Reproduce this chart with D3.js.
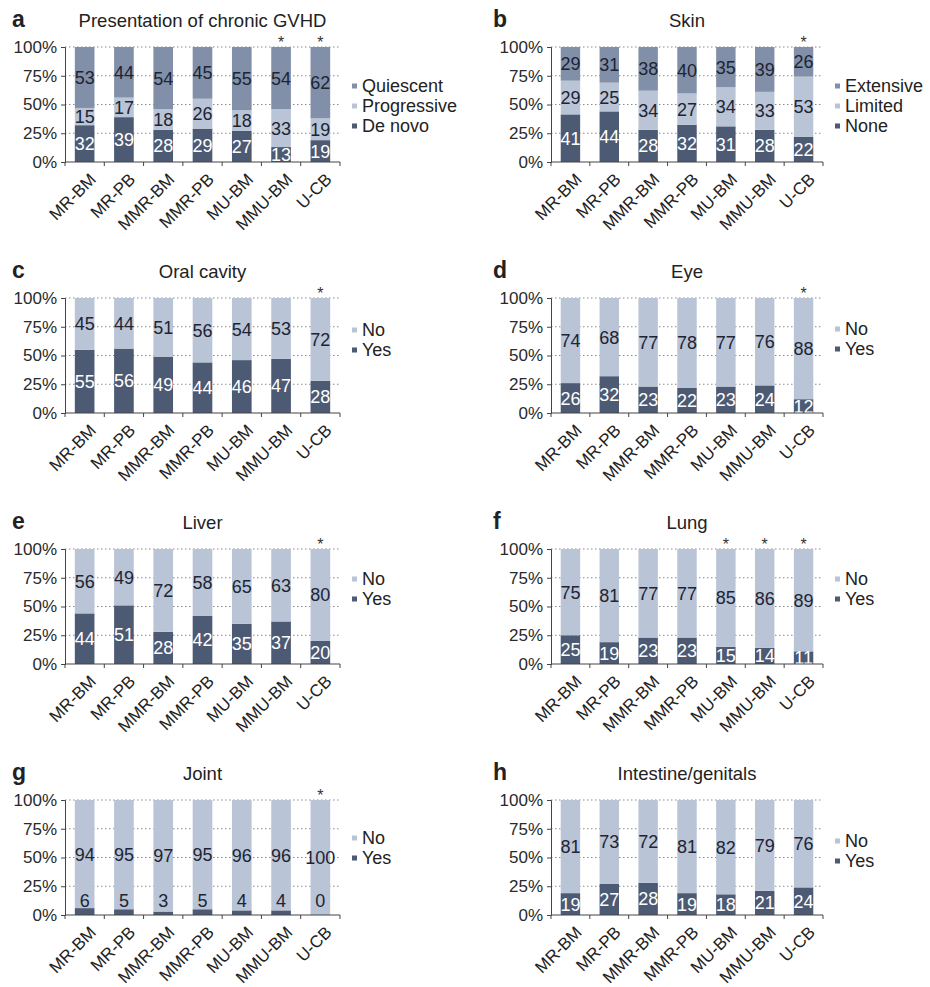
<!DOCTYPE html>
<html>
<head>
<meta charset="utf-8">
<script src="https://cdn.jsdelivr.net/npm/d3@7"></script>
<style>
  html, body { margin: 0; padding: 0; background: #fff; }
  svg { display: block; font-family: "Liberation Sans", Arial, Helvetica, sans-serif; }
</style>
</head>
<body>
<svg id="chart" width="930" height="987"></svg>
<script>
// Donor/graft source groups shown on every panel
const categories = ["MR-BM", "MR-PB", "MMR-BM", "MMR-PB", "MU-BM", "MMU-BM", "U-CB"];
const yTicks = [0, 25, 50, 75, 100];

// a — presentation of chronic GVHD (%)
const presDeNovo      = [32, 39, 28, 29, 27, 13, 19];
const presProgressive = [15, 17, 18, 26, 18, 33, 19];
const presQuiescent   = [53, 44, 54, 45, 55, 54, 62];
const presStars       = ["MMU-BM", "U-CB"];

// b — skin involvement (%)
const skinNone      = [41, 44, 28, 32, 31, 28, 22];
const skinLimited   = [29, 25, 34, 27, 34, 33, 53];
const skinExtensive = [29, 31, 38, 40, 35, 39, 26];
const skinStars     = ["U-CB"];

// c — oral cavity (%)
const oralYes = [55, 56, 49, 44, 46, 47, 28];
const oralNo  = [45, 44, 51, 56, 54, 53, 72];
const oralStars = ["U-CB"];

// d — eye (%)
const eyeYes = [26, 32, 23, 22, 23, 24, 12];
const eyeNo  = [74, 68, 77, 78, 77, 76, 88];
const eyeStars = ["U-CB"];

// e — liver (%)
const liverYes = [44, 51, 28, 42, 35, 37, 20];
const liverNo  = [56, 49, 72, 58, 65, 63, 80];
const liverStars = ["U-CB"];

// f — lung (%)
const lungYes = [25, 19, 23, 23, 15, 14, 11];
const lungNo  = [75, 81, 77, 77, 85, 86, 89];
const lungStars = ["MU-BM", "MMU-BM", "U-CB"];

// g — joint (%)
const jointYes = [6, 5, 3, 5, 4, 4, 0];
const jointNo  = [94, 95, 97, 95, 96, 96, 100];
const jointStars = ["U-CB"];

// h — intestine/genitals (%)
const gutYes = [19, 27, 28, 19, 18, 21, 24];
const gutNo  = [81, 73, 72, 81, 82, 79, 76];
const gutStars = [];

const DARK = "#4c5a74", MID = "#8190a8", LIGHT = "#b9c4d6";
const INK = "#1d2434";

// Series are listed bottom-to-top; legend lists them top-to-bottom
const panels = [
  { letter: "a", title: "Presentation of chronic GVHD", stars: presStars, legendDy: 39,
    series: [ { name: "De novo", values: presDeNovo, color: DARK },
              { name: "Progressive", values: presProgressive, color: LIGHT },
              { name: "Quiescent", values: presQuiescent, color: MID } ] },
  { letter: "b", title: "Skin", stars: skinStars, legendDy: 39,
    series: [ { name: "None", values: skinNone, color: DARK },
              { name: "Limited", values: skinLimited, color: LIGHT },
              { name: "Extensive", values: skinExtensive, color: MID } ] },
  { letter: "c", title: "Oral cavity", stars: oralStars, legendDy: 32,
    series: [ { name: "Yes", values: oralYes, color: DARK }, { name: "No", values: oralNo, color: LIGHT } ] },
  { letter: "d", title: "Eye", stars: eyeStars, legendDy: 31,
    series: [ { name: "Yes", values: eyeYes, color: DARK }, { name: "No", values: eyeNo, color: LIGHT } ] },
  { letter: "e", title: "Liver", stars: liverStars, legendDy: 30,
    series: [ { name: "Yes", values: liverYes, color: DARK }, { name: "No", values: liverNo, color: LIGHT } ] },
  { letter: "f", title: "Lung", stars: lungStars, legendDy: 30,
    series: [ { name: "Yes", values: lungYes, color: DARK }, { name: "No", values: lungNo, color: LIGHT } ] },
  { letter: "g", title: "Joint", stars: jointStars, legendDy: 38,
    series: [ { name: "Yes", values: jointYes, color: DARK }, { name: "No", values: jointNo, color: LIGHT } ] },
  { letter: "h", title: "Intestine/genitals", stars: gutStars, legendDy: 41,
    series: [ { name: "Yes", values: gutYes, color: DARK }, { name: "No", values: gutNo, color: LIGHT } ] }
];

const svg = d3.select("#chart");
const colX = [[65, 340], [551, 823]];
const rowTop = 47, rowStep = 251, plotH = 115;

panels.forEach((p, i) => {
  const col = i % 2, row = Math.floor(i / 2);
  const [x0, x1] = colX[col];
  const top = rowTop + row * rowStep, bottom = top + plotH;

  const x = d3.scaleBand().domain(categories).range([x0, x1]).paddingInner(0.5).paddingOuter(0.25);
  const y = d3.scaleLinear().domain([0, 100]).range([bottom, top]);

  const g = svg.append("g");

  // dotted gridlines
  g.selectAll(".grid").data(yTicks.filter(t => t > 0)).join("line")
    .attr("x1", x0).attr("x2", x1)
    .attr("y1", d => y(d)).attr("y2", d => y(d))
    .attr("stroke", "#8a8a8a").attr("stroke-width", 1).attr("stroke-dasharray", "1.5,2.5");

  // stacked, normalised to 100%
  const rows = categories.map((c, k) => {
    const o = { cat: c };
    p.series.forEach((s, j) => o["s" + j] = s.values[k]);
    return o;
  });
  const keys = p.series.map((s, j) => "s" + j);
  const stacked = d3.stack().keys(keys).offset(d3.stackOffsetExpand)(rows);

  stacked.forEach((layer, j) => {
    const s = p.series[j];
    g.selectAll(null).data(layer).join("rect")
      .attr("x", d => x(d.data.cat))
      .attr("width", x.bandwidth())
      .attr("y", d => y(d[1] * 100))
      .attr("height", d => y(d[0] * 100) - y(d[1] * 100))
      .attr("fill", s.color);
  });

  // value labels
  stacked.forEach((layer, j) => {
    const s = p.series[j];
    g.selectAll(null).data(layer).join("text")
      .attr("x", d => x(d.data.cat) + x.bandwidth() / 2)
      .attr("y", d => {
        const v = d.data["s" + j];
        const mid = (d[0] + d[1]) / 2 * 100;
        return y(v < 8 ? Math.max(mid, 13) : mid);
      })
      .attr("dy", "0.36em")
      .attr("text-anchor", "middle")
      .attr("font-size", 18)
      .attr("fill", d => (s.color === DARK && d.data["s" + j] >= 8) ? "#ffffff" : INK)
      .text(d => d.data["s" + j]);
  });

  // significance markers
  g.selectAll(".star").data(p.stars).join("text")
    .attr("x", d => x(d) + x.bandwidth() / 2)
    .attr("y", top + 1)
    .attr("text-anchor", "middle")
    .attr("font-size", 16)
    .attr("fill", "#333")
    .text("*");

  // y axis
  const yAxis = d3.axisLeft(y).tickValues(yTicks).tickFormat(d => d + "%").tickSize(4).tickPadding(4);
  const ya = g.append("g").attr("transform", `translate(${x0},0)`).call(yAxis);
  ya.select(".domain").attr("stroke", "#444");
  ya.selectAll(".tick line").attr("stroke", "#444");
  ya.selectAll(".tick text").attr("font-size", 17).attr("fill", "#2a2a2a")
    .attr("font-family", "'Liberation Sans', Arial, sans-serif");

  // x axis: ticks sit between categories
  const xa = g.append("g").attr("transform", `translate(0,${bottom})`);
  xa.append("line").attr("x1", x0).attr("x2", x1).attr("y1", 0).attr("y2", 0).attr("stroke", "#444");
  const edges = d3.range(categories.length + 1).map(k => x0 + k * (x1 - x0) / categories.length);
  xa.selectAll(".edge").data(edges).join("line")
    .attr("x1", d => d).attr("x2", d => d).attr("y1", 0).attr("y2", 4).attr("stroke", "#444");
  xa.selectAll(".cat").data(categories).join("text")
    .attr("transform", d => `translate(${x(d) + x.bandwidth() / 2 + 4},${10}) rotate(-45)`)
    .attr("text-anchor", "end")
    .attr("dy", "0.7em")
    .attr("font-size", 17)
    .attr("fill", "#222")
    .text(d => d);

  // title and panel letter
  g.append("text")
    .attr("x", (x0 + x1) / 2).attr("y", top - 20)
    .attr("text-anchor", "middle").attr("font-size", 18.5).attr("fill", "#222")
    .text(p.title);
  g.append("text")
    .attr("x", col === 0 ? 12 : 493).attr("y", top - 20)
    .attr("font-size", 23).attr("font-weight", "bold").attr("fill", "#222")
    .text(p.letter);

  // legend
  const legend = p.series.slice().reverse();
  const lg = g.append("g").attr("transform", `translate(${x1 + 12},${top + p.legendDy})`);
  legend.forEach((s, k) => {
    lg.append("rect").attr("x", 0).attr("y", k * 20 - 2.5).attr("width", 5).attr("height", 5).attr("fill", s.color);
    lg.append("text").attr("x", 10).attr("y", k * 20).attr("dy", "0.36em")
      .attr("font-size", 18).attr("fill", "#222").text(s.name);
  });
});
</script>
</body>
</html>
